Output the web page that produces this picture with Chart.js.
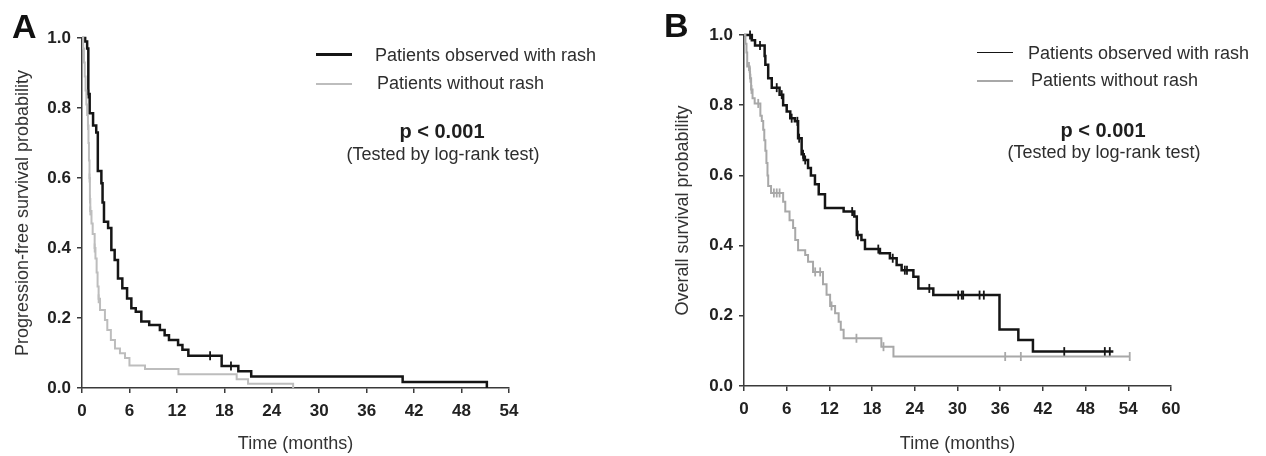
<!DOCTYPE html>
<html>
<head>
<meta charset="utf-8">
<script src="https://cdn.jsdelivr.net/npm/chart.js@4.4.1/dist/chart.umd.min.js"></script>
<style>
  body {
    margin: 0;
    width: 1266px;
    height: 456px;
    overflow: hidden;
    position: relative;
    background: #fff;
    font-family: "Liberation Sans", Arial, sans-serif;
    color: #2e2e2e;
  }
  canvas { position: absolute; top: 0; }
  #chartA { left: 0; }
  #chartB { left: 633px; }
  .txt { position: absolute; white-space: nowrap; line-height: 1; }
  .mid { transform: translate(-50%, -50%); }
  .left { transform: translateY(-50%); }
  .panel { font-size: 34px; font-weight: bold; color: #111; }
  .leg { font-size: 18px; }
  .pval { font-size: 20px; font-weight: bold; color: #1e1e1e; }
  .note { font-size: 18px; }
  .swatch { position: absolute; width: 36px; }
</style>
</head>
<body>
<canvas id="chartA" width="633" height="456"></canvas>
<canvas id="chartB" width="633" height="456"></canvas>

<!-- panel A labels -->
<div class="txt panel" style="left:12px; top:9px;">A</div>
<div class="swatch" style="left:316px; top:53px; height:2.5px; background:#151515;"></div>
<div class="txt leg left" style="left:375px; top:55px;">Patients observed with rash</div>
<div class="swatch" style="left:316px; top:83px; height:2px; background:#bdbdbd;"></div>
<div class="txt leg left" style="left:377px; top:83px;">Patients without rash</div>
<div class="txt pval mid" style="left:442px; top:131px;">p &lt; 0.001</div>
<div class="txt note mid" style="left:443px; top:154px;">(Tested by log-rank test)</div>

<!-- panel B labels -->
<div class="txt panel" style="left:664px; top:8px;">B</div>
<div class="swatch" style="left:977px; top:51.5px; height:1.4px; background:#151515;"></div>
<div class="txt leg left" style="left:1028px; top:53px;">Patients observed with rash</div>
<div class="swatch" style="left:977px; top:79.5px; height:2px; background:#a8a8a8;"></div>
<div class="txt leg left" style="left:1031px; top:80px;">Patients without rash</div>
<div class="txt pval mid" style="left:1103px; top:130px;">p &lt; 0.001</div>
<div class="txt note mid" style="left:1104px; top:152px;">(Tested by log-rank test)</div>

<script>
// A: progression-free survival (months, probability)
const pfsRashT = [0, 0.4, 0.65, 0.8, 0.97, 1.4, 1.8, 2.0, 2.45, 2.6, 2.78, 3.3, 3.71, 4.13, 4.55, 5.1, 5.7, 6.24, 6.8, 7.5, 8.5, 9.85, 10.45, 11.0, 12.15, 12.7, 13.45, 17.66, 19.77, 21.4, 40.55, 51.2];
const pfsRashS = [1.0, 0.99, 0.97, 0.84, 0.785, 0.75, 0.73, 0.62, 0.585, 0.53, 0.475, 0.457, 0.394, 0.366, 0.313, 0.285, 0.256, 0.228, 0.218, 0.19, 0.18, 0.166, 0.151, 0.137, 0.123, 0.109, 0.092, 0.063, 0.048, 0.033, 0.017, 0];
const pfsRashCensT = [0.8, 16.2, 18.84];
const pfsRashCensS = [0.84, 0.092, 0.063];

const pfsNoRashT = [0, 0.15, 0.25, 0.35, 0.45, 0.55, 0.65, 0.75, 0.82, 0.88, 0.95, 1.0, 1.05, 1.2, 1.35, 1.6, 1.7, 1.85, 1.97, 2.1, 2.28, 2.9, 3.2, 3.65, 4.17, 4.8, 5.44, 6.0, 7.97, 12.2, 19.56, 21.0, 26.7];
const pfsNoRashS = [1.0, 0.97, 0.93, 0.89, 0.85, 0.81, 0.78, 0.75, 0.70, 0.65, 0.60, 0.54, 0.506, 0.47, 0.44, 0.40, 0.37, 0.33, 0.29, 0.255, 0.223, 0.194, 0.166, 0.137, 0.113, 0.099, 0.086, 0.064, 0.054, 0.039, 0.025, 0.012, 0];
const pfsNoRashCensT = [0.76, 0.95, 1.0, 1.05, 1.6, 2.1];
const pfsNoRashCensS = [0.75, 0.60, 0.54, 0.506, 0.40, 0.255];

// B: overall survival
const osRashT = [0, 1.1, 1.55, 2.9, 3.0, 3.4, 3.9, 5.0, 5.5, 6.0, 6.5, 7.15, 7.6, 8.1, 8.4, 9.0, 9.4, 9.97, 10.5, 11.38, 14.0, 15.5, 15.85, 16.5, 17.0, 19.1, 20.5, 21.45, 22.15, 23.8, 24.5, 26.6, 35.9, 38.55, 40.6, 51.9];
const osRashS = [1.0, 0.985, 0.97, 0.94, 0.915, 0.877, 0.85, 0.83, 0.80, 0.782, 0.763, 0.754, 0.706, 0.66, 0.644, 0.621, 0.60, 0.575, 0.546, 0.507, 0.497, 0.483, 0.43, 0.416, 0.39, 0.378, 0.364, 0.345, 0.33, 0.311, 0.278, 0.259, 0.161, 0.131, 0.098, 0.098];
const osRashCensT = [0.85, 2.25, 4.6, 5.3, 6.7, 7.5, 7.75, 8.3, 8.6, 15.2, 16.0, 18.87, 20.9, 22.6, 22.9, 26.04, 30.1, 30.6, 30.8, 33.1, 33.7, 45.0, 50.7, 51.4];
const osRashCensS = [1.0, 0.97, 0.85, 0.83, 0.763, 0.754, 0.706, 0.66, 0.644, 0.497, 0.43, 0.39, 0.364, 0.33, 0.33, 0.278, 0.259, 0.259, 0.259, 0.259, 0.259, 0.098, 0.098, 0.098];

const osNoRashT = [0, 0.2, 0.35, 0.45, 0.8, 0.85, 1.0, 1.2, 1.5, 2.3, 2.5, 2.7, 2.85, 3.0, 3.15, 3.3, 3.4, 3.8, 5.5, 5.8, 6.4, 6.9, 7.2, 7.6, 8.6, 9.0, 9.7, 11.1, 11.6, 12.1, 12.8, 13.3, 13.6, 14.0, 19.3, 21.0, 54.2];
const osNoRashS = [1.0, 0.975, 0.95, 0.91, 0.895, 0.877, 0.845, 0.82, 0.805, 0.77, 0.755, 0.73, 0.70, 0.67, 0.635, 0.60, 0.57, 0.55, 0.525, 0.497, 0.472, 0.45, 0.416, 0.387, 0.373, 0.354, 0.325, 0.29, 0.26, 0.228, 0.207, 0.183, 0.16, 0.136, 0.112, 0.084, 0.084];
const osNoRashCensT = [0.7, 0.82, 0.9, 1.05, 2.0, 4.2, 4.6, 5.0, 10.0, 10.7, 12.3, 15.8, 19.6, 36.7, 38.9, 54.2];
const osNoRashCensS = [0.91, 0.895, 0.877, 0.845, 0.805, 0.55, 0.55, 0.55, 0.325, 0.325, 0.228, 0.136, 0.112, 0.084, 0.084, 0.084];

const BLACK = "#151515";
const AXIS = "#3a3a3a";
const FONT = '"Liberation Sans", Arial, sans-serif';

const zip = (t, s) => t.map((x, i) => ({ x: x, y: s[i] }));

const curve = (t, s, color, w) => ({
  data: zip(t, s),
  borderColor: color,
  borderWidth: w,
  stepped: "before",
  pointRadius: 0,
  fill: false,
  clip: false
});

// censoring ticks: vertical dashes on the curve
const censor = (t, s, color) => ({
  data: zip(t, s),
  showLine: false,
  pointStyle: "line",
  rotation: 90,
  pointRadius: 4.5,
  pointBorderColor: color,
  pointBorderWidth: 1.8,
  clip: false
});

function kmChart(id, c) {
  return new Chart(document.getElementById(id), {
    type: "line",
    data: {
      datasets: [
        curve(c.grayT, c.grayS, c.gray, 2),
        curve(c.blackT, c.blackS, BLACK, 2.5),
        censor(c.grayCT, c.grayCS, c.gray),
        censor(c.blackCT, c.blackCS, BLACK)
      ]
    },
    options: {
      responsive: false,
      devicePixelRatio: 1,
      animation: false,
      events: [],
      layout: { padding: c.pad },
      plugins: { legend: { display: false }, tooltip: { enabled: false } },
      scales: {
        x: {
          type: "linear",
          min: 0,
          max: c.xMax,
          afterFit: (s) => { s.height = c.xH; },
          ticks: { stepSize: 6, autoSkip: false, maxRotation: 0, padding: 8, color: "#222",
                   font: { family: FONT, size: 17, weight: "bold" } },
          grid: { drawOnChartArea: false, tickLength: 5, color: AXIS, lineWidth: 1.5 },
          border: { color: AXIS, width: 1.5 },
          title: { display: true, text: "Time (months)", color: "#333",
                   font: { family: FONT, size: 18 }, padding: { top: 0, bottom: 1 } }
        },
        y: {
          min: 0,
          max: 1,
          afterFit: (s) => { s.width = c.yW; },
          ticks: { stepSize: 0.2, padding: 6, color: "#222", callback: (v) => v.toFixed(1),
                   font: { family: FONT, size: 17, weight: "bold" } },
          grid: { drawOnChartArea: false, tickLength: 5, color: AXIS, lineWidth: 1.5 },
          border: { color: AXIS, width: 1.5 },
          title: { display: true, text: c.yTitle, color: "#333",
                   font: { family: FONT, size: 18 }, padding: { top: c.yTitlePad, bottom: 0 } }
        }
      }
    }
  });
}

kmChart("chartA", {
  blackT: pfsRashT, blackS: pfsRashS, blackCT: pfsRashCensT, blackCS: pfsRashCensS,
  grayT: pfsNoRashT, grayS: pfsNoRashS, grayCT: pfsNoRashCensT, grayCS: pfsNoRashCensS,
  gray: "#bdbdbd",
  xMax: 54,
  yTitle: "Progression-free survival probability",
  yTitlePad: 12,
  yW: 82,
  xH: 68,
  pad: { top: 38, right: 124, bottom: 0, left: 0 }
});

kmChart("chartB", {
  blackT: osRashT, blackS: osRashS, blackCT: osRashCensT, blackCS: osRashCensS,
  grayT: osNoRashT, grayS: osNoRashS, grayCT: osNoRashCensT, grayCS: osNoRashCensS,
  gray: "#a8a8a8",
  xMax: 60,
  yTitle: "Overall survival probability",
  yTitlePad: 39,
  yW: 111,
  xH: 70,
  pad: { top: 35, right: 95, bottom: 0, left: 0 }
});
</script>
</body>
</html>
